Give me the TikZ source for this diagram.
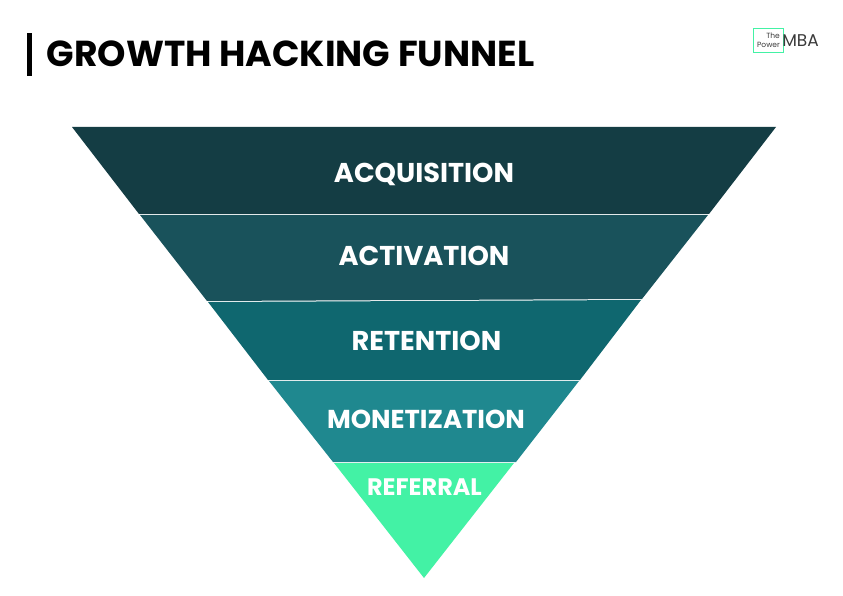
\documentclass[tikz,border=0pt]{standalone}
\usepackage{fontspec}
\setmainfont{Poppins}
\usepackage{tikz}
\definecolor{bandA}{HTML}{143D44}
\definecolor{bandB}{HTML}{19525B}
\definecolor{bandC}{HTML}{0F676F}
\definecolor{bandD}{HTML}{1F888F}
\definecolor{bandE}{HTML}{43F2A5}
\definecolor{logoGrey}{HTML}{3A3A3A}
\tikzset{
  bandlabel/.style={text=white,font=\bfseries\fontsize{27.2}{30}\selectfont,inner sep=0pt},
  logotext/.style={text=logoGrey,inner sep=0pt}
}
\begin{document}
\begin{tikzpicture}[x=1pt,y=-1pt]
\useasboundingbox (0,0) rectangle (843,596);
\fill [white] (0,0) rectangle (843,596);
\fill [black] (27,33.5) rectangle (32,76);
\node (title) at (290.5,53.5) [text=black,font=\bfseries\fontsize{36.1}{40}\selectfont,inner sep=0pt] {GROWTH HACKING FUNNEL};
\fill [bandA] (72,127) -- (776,127) -- (709,214) -- (139,214) -- cycle;
\fill [bandB] (140,215) -- (708,215) -- (642,299) -- (207,301) -- cycle;
\fill [bandC] (208,302) -- (641,300) -- (580,380) -- (268,380) -- cycle;
\fill [bandD] (269,381) -- (579,381) -- (516,462) -- (333,462) -- cycle;
\fill [bandE] (334,463) -- (514,463) -- (424,578) -- cycle;
\node (acquisition) at (424,174) [bandlabel] {ACQUISITION};
\node (activation) at (424,256) [bandlabel] {ACTIVATION};
\node (retention) at (426.5,341) [bandlabel] {RETENTION};
\node (monetization) at (426,419) [bandlabel,font=\bfseries\fontsize{25.9}{29}\selectfont] {MONETIZATION};
\node (referral) at (424.5,487.5) [bandlabel,font=\bfseries\fontsize{23.9}{26}\selectfont] {REFERRAL};
\draw [bandE,line width=1pt] (753.5,28.5) rectangle (783,52.5);
\node (the) at (773,36) [logotext,font=\fontsize{7.5}{8}\selectfont] {The};
\node (power) at (768.5,44.5) [logotext,font=\fontsize{7.5}{8}\selectfont] {Power};
\node (mba) at (800.5,41) [logotext,font=\fontsize{17}{18}\selectfont] {MBA};
\end{tikzpicture}
\end{document}
